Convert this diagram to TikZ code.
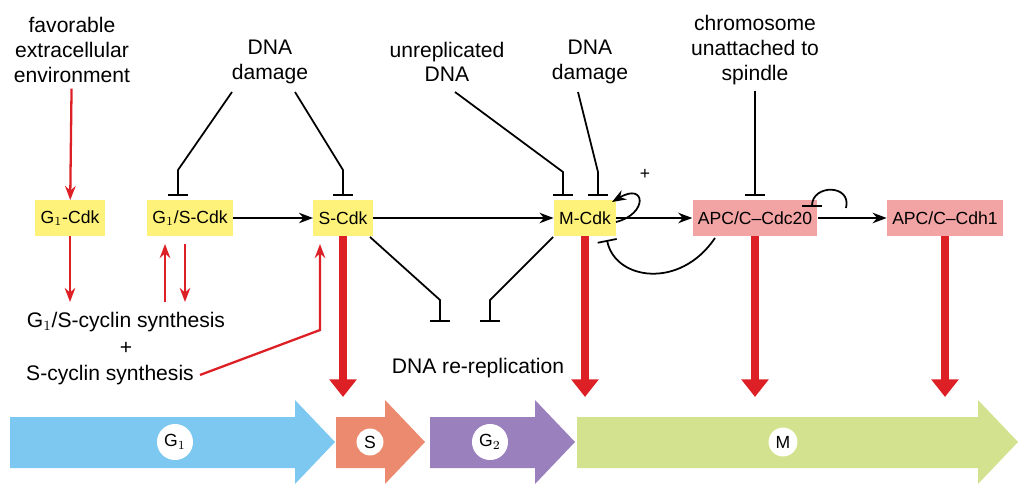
\documentclass[tikz,border=0pt]{standalone}
\usepackage{fontspec}
\setmainfont{Liberation Sans}
\usetikzlibrary{positioning,arrows.meta}
\definecolor{cdkyellow}{HTML}{FFF27A}
\definecolor{apcpink}{HTML}{F2A3A3}
\definecolor{redarr}{HTML}{DD2026}
\definecolor{phaseG1}{HTML}{7CC8F0}
\definecolor{phaseS}{HTML}{EB8A6E}
\definecolor{phaseG2}{HTML}{9B80BE}
\definecolor{phaseM}{HTML}{D2E28E}
\newcommand{\phasearrow}[3]{%
  \fill[#3] (#1,417) -- (#2-40,417) -- (#2-40,400) -- (#2,442) -- (#2-40,484) -- (#2-40,468) -- (#1,468) -- cycle;}
\tikzset{
  cdk/.style={fill=cdkyellow, inner sep=3pt, minimum height=20pt, font=\normalsize},
  apc/.style={fill=apcpink, inner sep=3pt, minimum height=20pt, font=\normalsize},
  lbl/.style={align=center, font=\large},
  act/.style={-{Stealth[length=8pt]}, line width=1pt},
  inh/.style={-{Bar[width=11pt]}, line width=1pt},
  redact/.style={-{Stealth[length=8pt]}, line width=1.3pt, redarr},
  bigred/.style={-{Triangle[length=10pt,width=15pt]}, line width=4.5pt, redarr},
  tag/.style={circle, fill=white, inner sep=2pt, font=\normalsize}
}
\begin{document}
\begin{tikzpicture}[x=0.02cm, y=-0.02cm]
  \useasboundingbox (0,0) rectangle (1021,490);

  % signals
  \node[lbl] (env) at (72,50) {favorable\\extracellular\\environment};
  \node[lbl] (dmg1) at (270,62) {DNA\\damage};
  \node[lbl] (unrep) at (447,62) {unreplicated\\DNA};
  \node[lbl] (dmg2) at (590,62) {DNA\\damage};
  \node[lbl] (chrom) at (755,50) {chromosome\\unattached to\\spindle};

  % kinases
  \node[cdk] (g1cdk) at (70,218) {G$_1$-Cdk};
  \node[cdk] (g1scdk) at (190,218) {G$_1$/S-Cdk};
  \node[cdk] (scdk) at (343,218) {S-Cdk};
  \node[cdk] (mcdk) at (585,218) {M-Cdk};
  \node[apc] (cdc20) at (755,218) {APC/C--Cdc20};
  \node[apc] (cdh1) at (945,218) {APC/C--Cdh1};

  \node[lbl] (synth1) at (126,322) {G$_1$/S-cyclin synthesis};
  \node[lbl] (plus) at (126,348) {+};
  \node[lbl] (synth2) at (110,375) {S-cyclin synthesis};
  \node[lbl] (rerep) at (478,368) {DNA re-replication};

  \draw[act] (g1scdk) -- (scdk);
  \draw[act] (scdk) -- (mcdk);
  \draw[act] (mcdk) -- (cdc20);
  \draw[act] (cdc20) -- (cdh1);

  \draw[redact] (env) -- (g1cdk);
  \draw[redact] (g1cdk) -- (70,302);
  \draw[redact] (165,302) -- (165,244);
  \draw[redact] (185,244) -- (185,302);
  \draw[redact] (synth2.east) -- (320,330) -- (320,244);

  \draw[inh] (232,92) -- (178,170) -- (178,196);
  \draw[inh] (295,92) -- (343,170) -- (343,196);
  \draw[inh] (455,92) -- (563,172) -- (563,196);
  \draw[inh] (578,92) -- (598,172) -- (598,196);
  \draw[inh] (chrom) -- (755,196);
  \draw[inh] (370,237) -- (440,300) -- (440,322);
  \draw[inh] (553,237) -- (490,300) -- (490,322);
  \draw[inh] (715,238) .. controls (680,290) and (615,280) .. (607,240);
  \draw[inh] (846,208) .. controls (852,184) and (812,184) .. (812,207);
  \draw[act] (616,222) .. controls (648,214) and (646,182) .. (612,202);
  \node (pl) at (645,174) {+};

  \draw[bigred] (scdk) -- (343,397);
  \draw[bigred] (mcdk) -- (585,397);
  \draw[bigred] (cdc20) -- (755,397);
  \draw[bigred] (cdh1) -- (945,397);

  % phases
  \phasearrow{10}{335}{phaseG1}
  \phasearrow{336}{425}{phaseS}
  \phasearrow{430}{575}{phaseG2}
  \phasearrow{577}{1018}{phaseM}
  \node[tag] (tg1) at (175,442) {G$_1$};
  \node[tag] (ts) at (370,442) {S};
  \node[tag] (tg2) at (490,442) {G$_2$};
  \node[tag] (tm) at (783,442) {M};
\end{tikzpicture}
\end{document}
